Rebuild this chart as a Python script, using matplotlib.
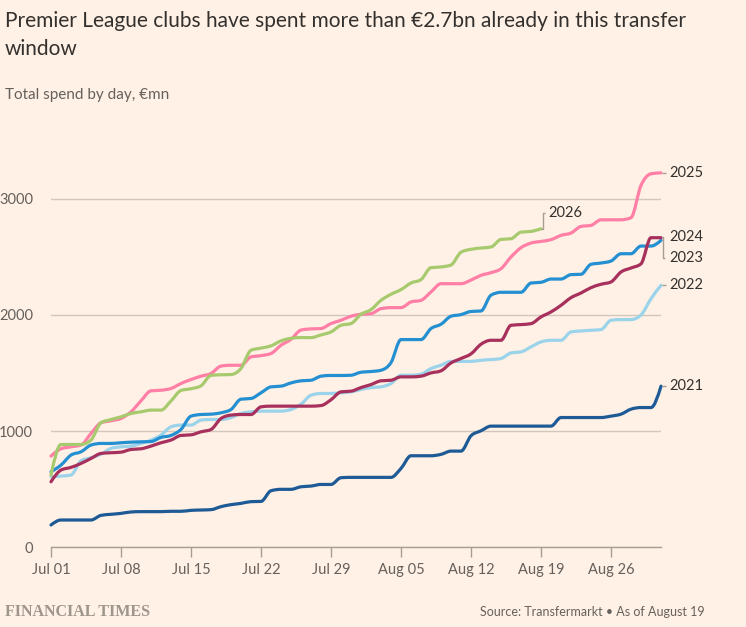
"""
FT-style chart: cumulative Premier League summer transfer spend by day.
Daily totals (€mn) from Jul 01, one list per window.
"""

import datetime as dt

import matplotlib
matplotlib.use("Agg")
import matplotlib.pyplot as plt
import numpy as np
from matplotlib.path import Path
from matplotlib.patches import PathPatch

# ── data: cumulative spend, €mn, one value per day from Jul 01 ──
spend_2021 = [192, 235, 235, 235, 235, 275, 284, 292, 304, 307, 307, 307, 310, 310, 318,
              321, 324, 350, 367, 378, 393, 395, 487, 499, 499, 521, 527, 541, 541, 599,
              602, 602, 602, 602, 602, 679, 788, 788, 788, 800, 828, 828, 960, 1003, 1043,
              1043, 1043, 1043, 1043, 1043, 1043, 1117, 1117, 1117, 1117, 1117, 1129, 1146,
              1189, 1203, 1203, 1387]
spend_2022 = [607, 613, 622, 745, 771, 802, 851, 865, 871, 894, 923, 966, 1037, 1052, 1052,
              1095, 1100, 1100, 1117, 1152, 1166, 1172, 1172, 1172, 1186, 1232, 1309, 1324,
              1324, 1330, 1338, 1358, 1375, 1381, 1410, 1481, 1481, 1490, 1539, 1567, 1600,
              1600, 1600, 1610, 1616, 1625, 1673, 1682, 1725, 1768, 1782, 1782, 1854, 1862,
              1868, 1874, 1954, 1960, 1960, 2000, 2140, 2255]
spend_2023 = [650, 708, 794, 822, 880, 894, 894, 900, 905, 908, 910, 946, 963, 1015, 1129,
              1143, 1146, 1158, 1186, 1275, 1281, 1330, 1381, 1387, 1415, 1433, 1438, 1473,
              1479, 1479, 1481, 1507, 1513, 1524, 1590, 1788, 1788, 1788, 1883, 1920, 1989,
              2003, 2030, 2034, 2170, 2195, 2195, 2195, 2275, 2281, 2309, 2309, 2347, 2350,
              2436, 2447, 2464, 2527, 2527, 2593, 2593, 2642]
spend_2024 = [564, 665, 688, 722, 765, 808, 814, 819, 842, 848, 871, 900, 923, 963, 968,
              994, 1014, 1109, 1138, 1143, 1143, 1209, 1215, 1215, 1215, 1215, 1215, 1220,
              1270, 1338, 1344, 1375, 1401, 1433, 1438, 1467, 1467, 1473, 1501, 1519, 1587,
              1625, 1665, 1748, 1782, 1782, 1911, 1917, 1925, 1983, 2026, 2083, 2149, 2189,
              2235, 2264, 2284, 2370, 2404, 2440, 2665, 2665]
spend_2025 = [785, 848, 865, 880, 980, 1072, 1089, 1109, 1166, 1261, 1347, 1352, 1367, 1410,
              1444, 1473, 1496, 1560, 1567, 1567, 1639, 1650, 1668, 1739, 1790, 1870, 1880,
              1883, 1926, 1954, 1989, 2006, 2011, 2054, 2063, 2063, 2112, 2126, 2198, 2269,
              2269, 2269, 2300, 2341, 2364, 2398, 2499, 2579, 2619, 2633, 2648, 2685, 2705,
              2762, 2771, 2819, 2819, 2819, 2837, 3115, 3215, 3223]
spend_2026 = [622, 885, 885, 885, 923, 1072, 1100, 1123, 1152, 1166, 1181, 1181, 1260, 1350,
              1365, 1390, 1480, 1485, 1487, 1540, 1696, 1715, 1734, 1777, 1799, 1805, 1805,
              1828, 1854, 1911, 1926, 2006, 2046, 2126, 2178, 2218, 2275, 2304, 2407, 2413,
              2430, 2540, 2565, 2576, 2585, 2650, 2656, 2713, 2719, 2742]

years = ["2021", "2022", "2023", "2024", "2025", "2026"]
series = [spend_2021, spend_2022, spend_2023, spend_2024, spend_2025, spend_2026]
colors = ["#1d5a96", "#9ad3ea", "#2490d2", "#a8305c", "#ff7fa6", "#a8ca6e"]

tick_days = [0, 7, 14, 21, 28, 35, 42, 49, 56]
start = dt.date(2025, 7, 1)
tick_labels = [(start + dt.timedelta(days=d)).strftime("%b %d") for d in tick_days]

BG = "#fff1e5"
TEXT = "#33302e"
MUTED = "#66605c"
GRID = "#d2c7bd"


def monotone_path(x, y):
    """Monotone cubic (d3 curveMonotoneX style) through the points, as a Bezier path."""
    x = np.asarray(x, float)
    y = np.asarray(y, float)
    h = np.diff(x)
    s = np.diff(y) / h
    t = np.zeros_like(y)
    for i in range(1, len(y) - 1):
        p = (s[i - 1] * h[i] + s[i] * h[i - 1]) / (h[i - 1] + h[i])
        t[i] = (np.sign(s[i - 1]) + np.sign(s[i])) * min(abs(s[i - 1]), abs(s[i]), 0.5 * abs(p))
    t[0] = (3 * s[0] - t[1]) / 2
    t[-1] = (3 * s[-1] - t[-2]) / 2
    verts = [(x[0], y[0])]
    codes = [Path.MOVETO]
    for i in range(len(x) - 1):
        dx = h[i] / 3
        verts += [(x[i] + dx, y[i] + dx * t[i]),
                  (x[i + 1] - dx, y[i + 1] - dx * t[i + 1]),
                  (x[i + 1], y[i + 1])]
        codes += [Path.CURVE4] * 3
    return Path(verts, codes)


plt.rcParams["font.family"] = ["Lato", "DejaVu Sans"]

fig = plt.figure(figsize=(7.46, 6.27), dpi=100)
fig.patch.set_facecolor(BG)
ax = fig.add_axes([51 / 746, 1 - 547.3 / 627, 610 / 746, 395 / 627])
ax.set_facecolor(BG)

last_day = len(spend_2021) - 1
ax.set_xlim(0, last_day)
ax.set_ylim(0, 3400)

for vals, col in zip(series, colors):
    days = np.arange(len(vals))
    ax.add_patch(PathPatch(monotone_path(days, vals), facecolor="none", edgecolor=col,
                           lw=2.3, capstyle="round", joinstyle="round", clip_on=False))

# grid + axes
ax.set_yticks([0, 1000, 2000, 3000])
ax.set_yticklabels(["0", "1000", "2000", "3000"])
ax.grid(axis="y", color=GRID, lw=1)
ax.set_axisbelow(True)
ax.tick_params(axis="y", length=0, pad=13, labelsize=10.5, labelcolor=MUTED)
ax.set_xticks(tick_days)
ax.set_xticklabels(tick_labels)
ax.tick_params(axis="x", length=7, width=1, color="#a69d95", pad=4, labelsize=10.5,
               labelcolor=MUTED)
for side in ["top", "right", "left"]:
    ax.spines[side].set_visible(False)
ax.spines["bottom"].set_color("#a69d95")
ax.spines["bottom"].set_linewidth(1)

# end labels with little connectors
lab_kw = dict(fontsize=10.5, color=TEXT, va="center", ha="left")
conn_kw = dict(color="#a69d95", lw=1, clip_on=False, solid_capstyle="butt")
lx = last_day + 0.8
for vals, yr in [(spend_2025, "2025"), (spend_2022, "2022"), (spend_2021, "2021")]:
    ax.plot([last_day + 0.05, last_day + 0.45], [vals[-1], vals[-1]], **conn_kw)
    ax.text(lx, vals[-1], yr, **lab_kw)

y24 = spend_2024[-1] + 5
y23 = y24 - 180
ax.plot([last_day + 0.05, last_day + 0.2, last_day + 0.2, last_day + 0.35],
        [y24, y24, y23, y23], **conn_kw)
ax.text(lx, y24, "2024", **lab_kw)
ax.text(lx, y23, "2023", **lab_kw)

d26 = len(spend_2026) - 1
y26 = spend_2026[-1] + 135
ax.plot([d26, d26 + 0.2, d26 + 0.2, d26 + 0.35],
        [spend_2026[-1], spend_2026[-1], y26, y26], **conn_kw)
ax.text(d26 + 0.75, y26, "2026", **lab_kw)

# titles and footer
fig.text(5 / 746, 1 - 27 / 627,
         "Premier League clubs have spent more than €2.7bn already in this transfer",
         fontsize=15, color=TEXT, va="baseline", ha="left")
fig.text(5 / 746, 1 - 55 / 627, "window", fontsize=15, color=TEXT, va="baseline", ha="left")
fig.text(5 / 746, 1 - 99 / 627, "Total spend by day, €mn", fontsize=11, color=MUTED,
         va="baseline", ha="left")
fig.text(5 / 746, 1 - 616 / 627, "FINANCIAL TIMES", fontsize=11.5, color="#9e958d",
         family="Liberation Serif", fontweight="bold", va="baseline", ha="left")
fig.text(705 / 746, 1 - 616 / 627, "Source: Transfermarkt • As of August 19", fontsize=9,
         color=MUTED, va="baseline", ha="right")

fig.savefig("out.png", dpi=100, facecolor=BG)
plt.close(fig)
